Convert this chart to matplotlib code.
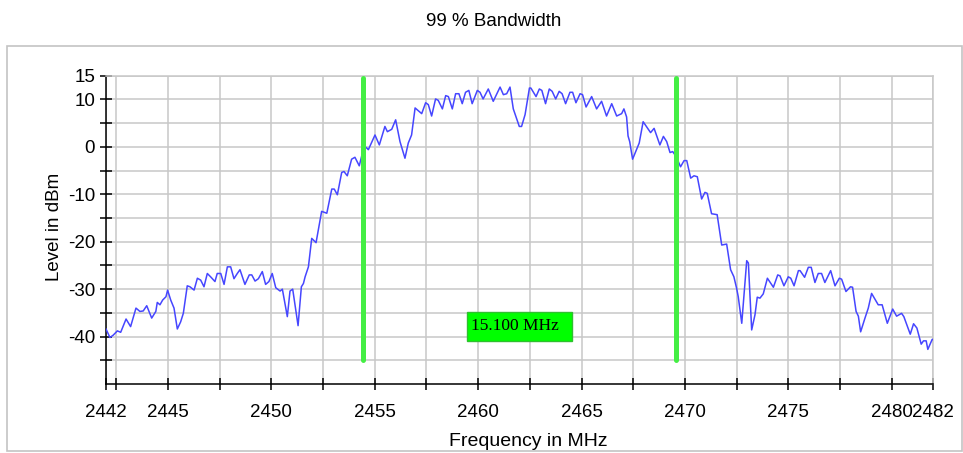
import matplotlib
matplotlib.use('Agg')
import matplotlib.pyplot as plt
from matplotlib.patches import Rectangle

plt.rcParams['font.family'] = ['Liberation Sans', 'DejaVu Sans']

#################
#
# data
#
#################

freq = [
    2442.00, 2442.19, 2442.35, 2442.55, 2442.71, 2442.97, 2443.19, 2443.45, 2443.64, 2443.80,
    2443.97, 2444.21, 2444.41, 2444.48, 2444.61, 2444.74, 2444.90, 2444.98, 2445.13, 2445.29,
    2445.45, 2445.61, 2445.74, 2445.93, 2446.06, 2446.26, 2446.42, 2446.58, 2446.74, 2446.90,
    2447.06, 2447.27, 2447.38, 2447.55, 2447.71, 2447.87, 2448.03, 2448.19, 2448.35, 2448.48,
    2448.72, 2448.93, 2449.05, 2449.21, 2449.37, 2449.56, 2449.72, 2449.88, 2450.04, 2450.21,
    2450.42, 2450.53, 2450.77, 2450.90, 2451.03, 2451.29, 2451.45, 2451.55, 2451.63, 2451.79,
    2451.95, 2452.16, 2452.43, 2452.68, 2452.92, 2453.04, 2453.19, 2453.40, 2453.51, 2453.67,
    2453.88, 2454.04, 2454.25, 2454.42, 2454.58, 2454.69, 2455.01, 2455.22, 2455.49, 2455.61,
    2455.82, 2456.01, 2456.22, 2456.46, 2456.62, 2456.78, 2456.95, 2457.27, 2457.46, 2457.59,
    2457.75, 2457.94, 2458.07, 2458.27, 2458.43, 2458.56, 2458.75, 2458.91, 2459.07, 2459.23,
    2459.39, 2459.55, 2459.71, 2459.96, 2460.09, 2460.24, 2460.49, 2460.73, 2461.06, 2461.22,
    2461.38, 2461.54, 2461.70, 2461.99, 2462.10, 2462.27, 2462.48, 2462.55, 2462.80, 2462.96,
    2463.08, 2463.26, 2463.44, 2463.58, 2463.75, 2463.92, 2464.06, 2464.23, 2464.44, 2464.57,
    2464.73, 2464.93, 2465.05, 2465.22, 2465.49, 2465.73, 2465.97, 2466.21, 2466.46, 2466.70,
    2466.94, 2467.05, 2467.18, 2467.25, 2467.33, 2467.47, 2467.79, 2467.98, 2468.15, 2468.34,
    2468.51, 2468.79, 2468.96, 2469.12, 2469.28, 2469.41, 2469.57, 2469.79, 2469.96, 2470.09,
    2470.28, 2470.44, 2470.60, 2470.81, 2470.97, 2471.08, 2471.29, 2471.56, 2471.78, 2472.02,
    2472.21, 2472.37, 2472.50, 2472.58, 2472.75, 2472.99, 2473.07, 2473.23, 2473.39, 2473.50,
    2473.63, 2473.79, 2473.99, 2474.28, 2474.49, 2474.60, 2474.79, 2475.00, 2475.12, 2475.28,
    2475.49, 2475.57, 2475.79, 2475.97, 2476.11, 2476.29, 2476.45, 2476.61, 2476.77, 2477.05,
    2477.26, 2477.47, 2477.58, 2477.79, 2478.01, 2478.11, 2478.28, 2478.39, 2478.50, 2478.71,
    2478.87, 2479.03, 2479.19, 2479.35, 2479.54, 2479.79, 2480.05, 2480.24, 2480.48, 2480.59,
    2480.90, 2481.06, 2481.22, 2481.43, 2481.54, 2481.67, 2481.75, 2481.96, 2482.00,
]

level = [
    -38.4, -40.2, -39.7, -38.8, -39.1, -36.3, -37.9, -34.0, -34.7, -34.6,
    -33.5, -36.1, -34.7, -32.8, -33.3, -32.3, -31.6, -30.2, -32.3, -34.0,
    -38.4, -36.9, -35.1, -29.3, -29.5, -30.2, -27.7, -28.1, -29.5, -26.7,
    -27.4, -28.4, -26.7, -26.7, -29.0, -25.3, -25.3, -27.8, -26.7, -25.9,
    -29.0, -27.0, -27.0, -28.3, -27.8, -26.3, -29.0, -28.4, -26.7, -29.7,
    -30.4, -30.0, -35.8, -30.4, -30.0, -37.7, -29.5, -28.8, -27.4, -25.3,
    -19.3, -20.2, -13.6, -14.0, -8.9, -8.9, -10.1, -5.4, -5.2, -6.1,
    -2.6, -2.2, -4.0, -1.0, -0.1, -0.6, 2.5, 0.4, 4.3, 3.2,
    3.7, 5.7, 1.1, -2.4, 0.8, 2.5, 8.2, 7.0, 9.3, 8.9,
    6.5, 10.1, 9.8, 8.0, 10.8, 10.6, 8.0, 11.2, 11.2, 9.1,
    11.5, 11.9, 9.1, 11.9, 11.5, 10.1, 12.2, 9.6, 12.6, 11.0,
    11.2, 12.6, 8.0, 4.3, 4.3, 6.8, 12.4, 12.4, 10.6, 12.2,
    11.9, 9.1, 12.2, 11.7, 10.1, 11.7, 11.2, 9.1, 11.5, 11.5,
    9.3, 11.2, 11.0, 8.4, 10.6, 8.0, 9.6, 6.5, 9.1, 6.5,
    7.0, 8.0, 6.3, 2.3, 1.1, -2.6, 0.8, 5.3, 4.2, 3.0,
    3.9, 0.4, 2.2, 1.1, -1.2, -1.0, -2.0, -4.2, -2.9, -2.9,
    -6.6, -6.1, -6.3, -11.0, -9.6, -9.8, -14.1, -14.3, -20.7, -20.5,
    -25.9, -27.4, -29.8, -31.6, -37.2, -24.0, -24.5, -38.6, -35.4, -31.7,
    -31.9, -31.0, -27.7, -29.6, -27.0, -27.2, -29.3, -27.4, -27.7, -29.3,
    -26.1, -26.1, -27.5, -25.4, -25.4, -28.6, -26.7, -26.7, -28.6, -26.1,
    -29.3, -27.7, -27.9, -30.5, -29.5, -29.6, -34.7, -35.7, -39.0, -36.1,
    -34.0, -30.9, -32.1, -33.3, -33.3, -37.2, -34.2, -35.7, -35.1, -35.8,
    -39.5, -37.3, -38.2, -41.6, -40.9, -40.9, -42.7, -40.6, -40.6,
]

marker_freqs = [2454.45, 2469.55]   # 99 % bandwidth limits
bandwidth_label = '15.100 MHz'

x_ticks = [2442, 2442.5, 2445, 2447.5, 2450, 2452.5, 2455, 2457.5, 2460,
           2462.5, 2465, 2467.5, 2470, 2472.5, 2475, 2477.5, 2480, 2482]
x_tick_labels = ['2442', '', '2445', '', '2450', '', '2455', '', '2460',
                 '', '2465', '', '2470', '', '2475', '', '2480', '2482']
y_ticks = [-45, -40, -35, -30, -25, -20, -15, -10, -5, 0, 5, 10, 15]
y_tick_labels = ['', '-40', '', '-30', '', '-20', '', '-10', '', '0', '', '10', '15']

#################
#
# figure
#
#################

W, H = 963, 453
fig = plt.figure(figsize=(W / 100, H / 100), dpi=100)
ax = fig.add_axes([106 / W, 1 - 384 / H, 827 / W, (384 - 75.7) / H])

# grey outer frame
fig.patches.append(Rectangle((7 / W, 1 - 450.5 / H), 955 / W, 405 / H,
                             transform=fig.transFigure, fill=False,
                             edgecolor='#c4c4c4', lw=1.2))

ax.plot(freq, level, color='#4646ff', lw=1.1, zorder=3)
ax.vlines(marker_freqs, -45, 14.6, colors='#44ee44', lw=3.6, zorder=4,
          capstyle='round')

# bandwidth box, centred between the markers
mid = sum(marker_freqs) / 2
ax.add_patch(Rectangle((mid - 2.54, -40.9), 5.08, 6.12, facecolor='#00ff00',
                       edgecolor='#2fc02f', lw=1.0, zorder=5))
ax.text(mid - 2.34, -37.8, bandwidth_label, family='Liberation Serif',
        fontsize=12.5, ha='left', va='center', zorder=6)

ax.set_xlim(2442, 2482)
ax.set_ylim(-50, 15)
ax.set_xticks(x_ticks)
ax.set_xticklabels(x_tick_labels)
ax.set_yticks(y_ticks)
ax.set_yticklabels(y_tick_labels)
ax.tick_params(axis='x', direction='inout', length=8.5, width=1.1, pad=10,
               labelsize=13.5)
ax.tick_params(axis='y', direction='inout', length=8.5, width=1.1, pad=3.5,
               labelsize=13.5)
ax.grid(True, color='#c8c8c8', lw=1.1, zorder=0)
ax.set_axisbelow(True)

for side in ('left', 'bottom'):
    ax.spines[side].set_linewidth(1.1)
for side in ('top', 'right'):
    ax.spines[side].set_color('#c8c8c8')
    ax.spines[side].set_linewidth(1.1)

fig.text(494 / W, 1 - 26 / H, '99 % Bandwidth', ha='center', va='baseline',
         fontsize=13.5)
fig.text(528 / W, 1 - 446.5 / H, 'Frequency in MHz', ha='center',
         va='baseline', fontsize=14)
fig.text(54.5 / W, 1 - 227 / H, 'Level in dBm', ha='center', va='center',
         rotation=90, fontsize=13.5)

fig.savefig('out.png', dpi=100)
